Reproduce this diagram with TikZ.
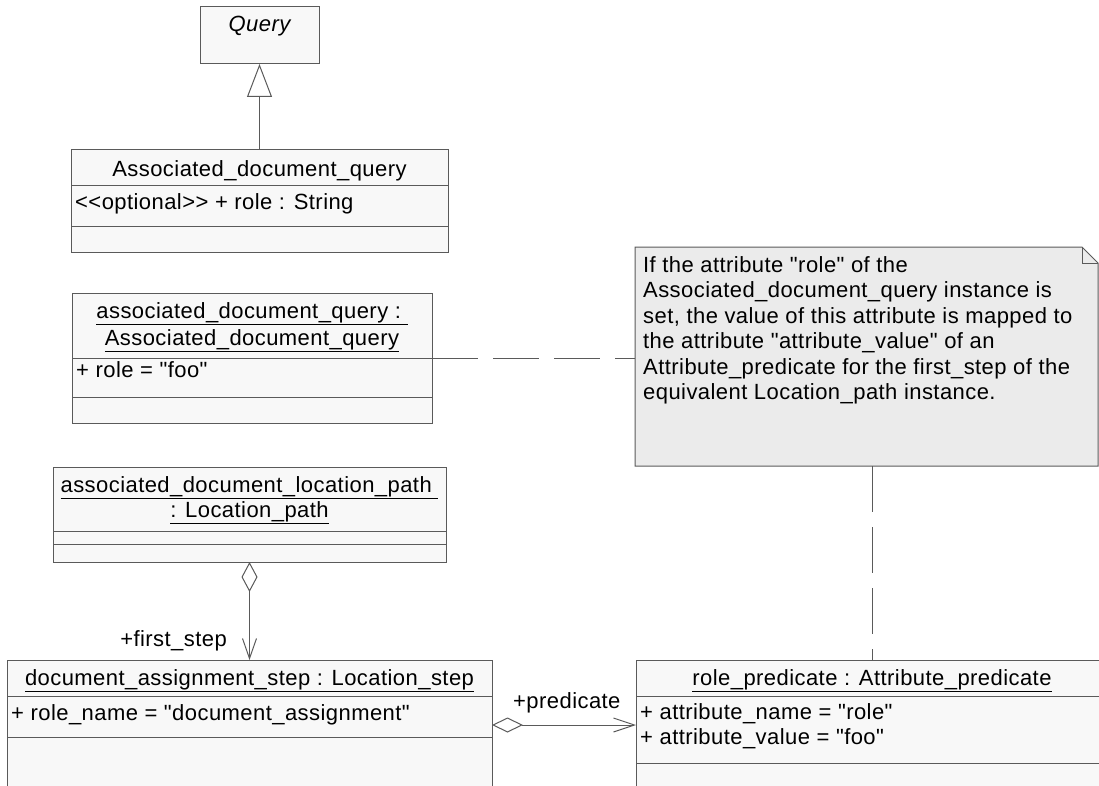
\documentclass[tikz,border=0pt]{standalone}
\usepackage{fontspec}
\newfontfamily\umlfont[LetterSpace=2.0]{Liberation Sans}
\usepackage{tikz}
\usetikzlibrary{arrows.meta,calc}

\definecolor{boxfill}{HTML}{F8F8F8}
\definecolor{notefill}{HTML}{EBEBEB}
\definecolor{linegray}{HTML}{5A5A5A}

\begin{document}
\begin{tikzpicture}[x=1pt, y=-1pt, font=\umlfont\fontsize{22}{25.5}\selectfont,
  umlbox/.style={draw=linegray, fill=boxfill, line width=1pt, inner sep=0pt, outer sep=0pt, anchor=north west},
  divider/.style={draw=linegray, line width=1pt},
  title/.style={inner sep=0pt, anchor=base},
  attr/.style={inner sep=0pt, anchor=base west},
  link/.style={draw=linegray, line width=1pt},
  notelink/.style={link, dash pattern=on 46pt off 15pt}]

\useasboundingbox (0,0) rectangle (1099,786);
\clip (0,0) rectangle (1099,786);

% abstract class and its subclass
\node[umlbox, minimum width=119pt, minimum height=57pt] (query) at (200,7) {};
\node[title] (querytitle) at (259.5,32) {\itshape Query};

\node[umlbox, minimum width=377pt, minimum height=102pt] (adq) at (71,150) {};
\draw[divider] ([yshift=-36pt]adq.north west) -- ([yshift=-36pt]adq.north east);
\draw[divider] ([yshift=-77pt]adq.north west) -- ([yshift=-77pt]adq.north east);
\node[title] (adqtitle) at (259.5,177) {Associated\_document\_query};
\node[attr] (adqrole) at (75,210) {<<optional>> + role : String};

\draw[link, -{Triangle[open, length=33pt, width=25pt, fill=white]}] (adq.north) -- (query.south);

% instance of the query
\node[umlbox, minimum width=360pt, minimum height=130pt] (inst) at (72,293) {};
\draw[divider] ([yshift=-65pt]inst.north west) -- ([yshift=-65pt]inst.north east);
\draw[divider] ([yshift=-104pt]inst.north west) -- ([yshift=-104pt]inst.north east);
\node[title] (insttitle) at (252,318) {\underline{associated\_document\_query :\ }};
\node[title] (insttype) at (252,345) {\underline{Associated\_document\_query}};
\node[attr] (instrole) at (76,377) {+ role = "foo"};

% note
\node[inner sep=0pt, outer sep=0pt, anchor=north west, minimum width=463pt, minimum height=219pt] (note) at (635,247) {};
\filldraw[draw=linegray, fill=notefill, line width=1pt]
  (note.south west) -- (note.north west) -- ([xshift=-16pt]note.north east)
  -- ([yshift=-16pt]note.north east) -- (note.south east) -- cycle;
\draw[link] ([xshift=-16pt]note.north east) -- ([xshift=-16pt,yshift=-16pt]note.north east)
  -- ([yshift=-16pt]note.north east);
\node[inner sep=0pt, anchor=north west, align=left] (notetext) at (643,256) {%
If the attribute "role" of the\\
Associated\_document\_query instance is\\
set, the value of this attribute is mapped to\\
the attribute "attribute\_value" of an\\
Attribute\_predicate for the first\_step of the\\
equivalent Location\_path instance.};

% location path
\node[umlbox, minimum width=393pt, minimum height=95pt] (locpath) at (53,467) {};
\draw[divider] ([yshift=-64pt]locpath.north west) -- ([yshift=-64pt]locpath.north east);
\draw[divider] ([yshift=-77pt]locpath.north west) -- ([yshift=-77pt]locpath.north east);
\node[title] (locpathtitle) at (249.5,492) {\underline{associated\_document\_location\_path\ }};
\node[title] (locpathtype) at (249.5,517) {\underline{: Location\_path}};

% location step
\node[umlbox, minimum width=485pt, minimum height=200pt] (step) at (7,660) {};
\draw[divider] ([yshift=-36pt]step.north west) -- ([yshift=-36pt]step.north east);
\draw[divider] ([yshift=-77pt]step.north west) -- ([yshift=-77pt]step.north east);
\node[title] (steptitle) at (249.5,685) {\underline{document\_assignment\_step : Location\_step}};
\node[attr] (steprole) at (11,720) {+ role\_name = "document\_assignment"};

% attribute predicate
\node[umlbox, minimum width=472pt, minimum height=200pt] (pred) at (636,660) {};
\draw[divider] ([yshift=-36pt]pred.north west) -- ([yshift=-36pt]pred.north east);
\draw[divider] ([yshift=-103pt]pred.north west) -- ([yshift=-103pt]pred.north east);
\node[title] (predtitle) at (872,685) {\underline{role\_predicate : Attribute\_predicate}};
\node[attr] (predname) at (640,719) {+ attribute\_name = "role"};
\node[attr] (predvalue) at (640,744) {+ attribute\_value = "foo"};

% associations
\draw[link, {Diamond[open, length=30pt, width=16pt, fill=white]}-{Straight Barb[length=20pt, width=14pt]}]
  (locpath.south) -- (step.north);
\node[inner sep=0pt, anchor=base east] (firststep) at (227,646) {+first\_step};

\coordinate (aggstart) at ([yshift=-65pt]step.north east);
\coordinate (aggend) at ([yshift=-65pt]pred.north west);
\draw[link, {Diamond[open, length=31pt, width=15pt, fill=white]}-{Straight Barb[length=21pt, width=14pt]}]
  (aggstart) -- (aggend);
\node[attr] (predrole) at (513,708) {+predicate};

% note links
\draw[notelink] (inst.east) -- (inst.east -| note.west);
\draw[notelink] (note.south -| pred.north) -- (pred.north);

\end{tikzpicture}
\end{document}
